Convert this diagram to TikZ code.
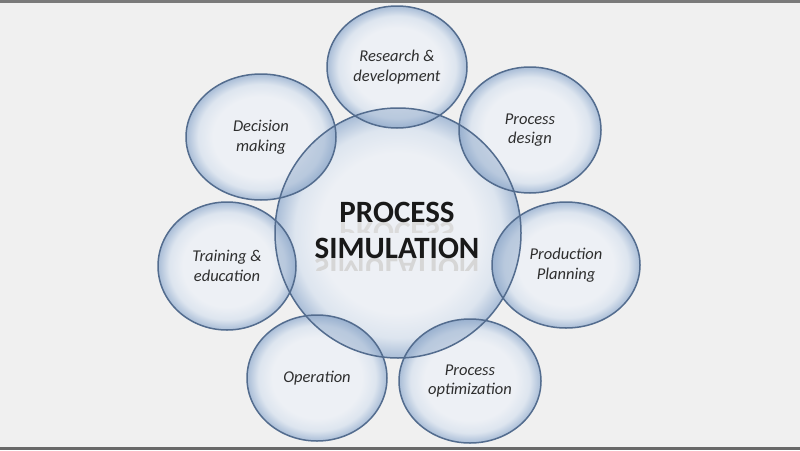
\documentclass[tikz,border=0pt]{standalone}
\usepackage{fontspec}
\setmainfont{Carlito}
\usetikzlibrary{shapes.geometric}
\definecolor{bgcol}{HTML}{F0F0F0}
\definecolor{barcol}{HTML}{7A7A7A}
\definecolor{bubA}{HTML}{EDF0F5}
\definecolor{bubB}{HTML}{DDE5EF}
\definecolor{bubC}{HTML}{A9BDD7}
\definecolor{lenscol}{HTML}{86A2C6}
\definecolor{rimcol}{HTML}{536C8E}
\definecolor{labcol}{HTML}{2E2E2E}
\pgfdeclareradialshading{bubble}{\pgfpoint{0bp}{0bp}}{color(0bp)=(bubA); color(16bp)=(bubA); color(21bp)=(bubB); color(25bp)=(bubC); color(50bp)=(bubC)}
\tikzset{
  bubble/.style={ellipse, inner sep=0pt, shading=bubble, align=center,
    font=\fontsize{16.5}{19.5}\selectfont\itshape, text=labcol},
  rim/.style={draw=rimcol, line width=1.5pt},
  lens/.style={fill=lenscol, fill opacity=0.42},
  bigtext/.style={font=\fontsize{31}{36}\bfseries, text=black!90, anchor=base, inner sep=0pt},
}
\begin{document}
\begin{tikzpicture}[x=1pt,y=-1pt]
\useasboundingbox (0,0) rectangle (800,450);
\fill[bgcol] (0,0) rectangle (800,450);
\fill[barcol] (0,0) rectangle (800,3);
\fill[barcol!85!black] (0,447) rectangle (800,450);
% bubbles (fill only)
\node[bubble, minimum width=246pt, minimum height=250pt] (c) at (398,233) {};
\node[bubble, minimum width=140pt, minimum height=122pt] (rd) at (397,67) {Research \&\\development};
\node[bubble, minimum width=142pt, minimum height=126pt] (pd) at (530,130) {Process\\design};
\node[bubble, minimum width=148pt, minimum height=126pt] (pp) at (566,265) {Production\\Planning};
\node[bubble, minimum width=142pt, minimum height=124pt] (po) at (470,381) {Process\\optimization};
\node[bubble, minimum width=140pt, minimum height=126pt] (op) at (317,378) {Operation};
\node[bubble, minimum width=138pt, minimum height=128pt] (te) at (227,266) {Training \&\\education};
\node[bubble, minimum width=150pt, minimum height=126pt] (dm) at (261,137) {Decision\\making};
% overlap lenses
\begin{scope}
\clip (c.center) ellipse [x radius=123pt, y radius=125pt];
\fill[lens] (rd.center) ellipse [x radius=70pt, y radius=61pt];
\fill[lens] (pd.center) ellipse [x radius=71pt, y radius=63pt];
\fill[lens] (pp.center) ellipse [x radius=74pt, y radius=63pt];
\fill[lens] (po.center) ellipse [x radius=71pt, y radius=62pt];
\fill[lens] (op.center) ellipse [x radius=70pt, y radius=63pt];
\fill[lens] (te.center) ellipse [x radius=69pt, y radius=64pt];
\fill[lens] (dm.center) ellipse [x radius=75pt, y radius=63pt];
\end{scope}
% outlines
\draw[rim] (c.center) ellipse [x radius=123pt, y radius=125pt];
\draw[rim] (rd.center) ellipse [x radius=70pt, y radius=61pt];
\draw[rim] (pd.center) ellipse [x radius=71pt, y radius=63pt];
\draw[rim] (pp.center) ellipse [x radius=74pt, y radius=63pt];
\draw[rim] (po.center) ellipse [x radius=71pt, y radius=62pt];
\draw[rim] (op.center) ellipse [x radius=70pt, y radius=63pt];
\draw[rim] (te.center) ellipse [x radius=69pt, y radius=64pt];
\draw[rim] (dm.center) ellipse [x radius=75pt, y radius=63pt];
% reflections
\begin{scope}
\clip (300,222) rectangle (500,232);
\node[bigtext, text=black!14, yscale=-1] (pr) at (397,222) {PROCESS};
\end{scope}
\begin{scope}
\clip (300,258) rectangle (500,270);
\node[bigtext, text=black!16, yscale=-1] (sr) at (397,258) {SIMULATION};
\end{scope}
% title
\node[bigtext] (t1) at (397,222) {PROCESS};
\node[bigtext] (t2) at (397,258) {SIMULATION};
\end{tikzpicture}
\end{document}
